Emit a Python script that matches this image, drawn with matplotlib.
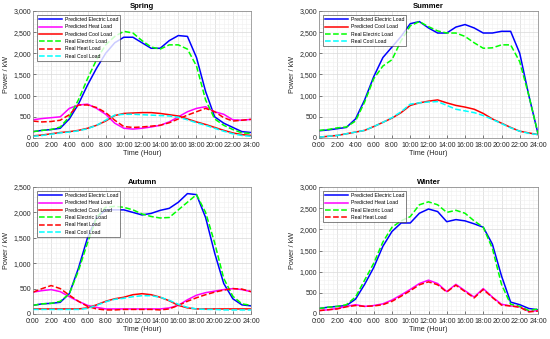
import matplotlib.pyplot as plt
from matplotlib.ticker import FuncFormatter, MultipleLocator

# -------- Data (hourly readings, 0:00 .. 24:00) --------
hours = list(range(25))
x_tick_labels = [f"{h}:00" for h in range(0, 25, 2)]

# Spring
spring_pred_elec = [150, 180, 200, 230, 450, 800, 1250, 1650, 2000, 2250, 2380, 2380, 2250,
                    2120, 2120, 2300, 2420, 2400, 1900, 1100, 500, 350, 250, 150, 130]
spring_real_elec = [150, 180, 200, 260, 500, 900, 1400, 1850, 2200, 2400, 2520, 2480, 2300,
                    2150, 2100, 2200, 2200, 2100, 1700, 900, 450, 300, 200, 120, 110]
spring_pred_heat = [430, 460, 480, 500, 700, 780, 800, 700, 560, 350, 230, 210, 230,
                    260, 300, 380, 500, 620, 700, 740, 620, 560, 430, 420, 440]
spring_real_heat = [400, 380, 390, 420, 550, 780, 780, 720, 600, 420, 270, 250, 260,
                    280, 300, 360, 450, 540, 620, 700, 620, 480, 400, 420, 440]
spring_pred_cool = [50, 70, 100, 130, 150, 180, 230, 300, 400, 530, 580, 590, 600,
                    600, 580, 550, 520, 450, 380, 320, 250, 180, 120, 80, 60]
spring_real_cool = [40, 60, 90, 120, 140, 170, 220, 300, 420, 540, 560, 560, 550,
                    540, 530, 520, 490, 430, 360, 300, 230, 160, 100, 60, 40]

# Summer
summer_pred_elec = [170, 190, 220, 250, 450, 900, 1450, 1900, 2150, 2400, 2700, 2750, 2600,
                    2480, 2480, 2620, 2680, 2600, 2480, 2480, 2520, 2520, 2000, 1000, 100]
summer_real_elec = [180, 200, 240, 260, 400, 850, 1400, 1700, 1850, 2300, 2650, 2750, 2630,
                    2530, 2480, 2480, 2400, 2250, 2120, 2130, 2200, 2200, 1800, 1000, 100]
summer_pred_cool = [20, 40, 60, 100, 140, 180, 270, 370, 470, 600, 770, 830, 870,
                    900, 830, 770, 730, 680, 580, 450, 350, 250, 160, 120, 80]
summer_real_cool = [20, 40, 60, 100, 140, 180, 270, 370, 480, 620, 800, 830, 850,
                    860, 770, 680, 640, 600, 530, 440, 340, 240, 160, 110, 80]

# Autumn
autumn_pred_elec = [170, 200, 210, 230, 400, 900, 1500, 1900, 2050, 2050, 2050, 2000, 1950,
                    1980, 2040, 2080, 2200, 2370, 2350, 1900, 1200, 600, 300, 180, 160]
autumn_real_elec = [170, 200, 210, 250, 400, 850, 1400, 1900, 2100, 2120, 2100, 2050, 1970,
                    1920, 1890, 1900, 2050, 2200, 2350, 2000, 1400, 700, 350, 200, 170]
autumn_pred_heat = [430, 460, 480, 440, 340, 250, 170, 130, 100, 100, 100, 100, 100,
                    100, 100, 120, 170, 280, 370, 420, 450, 480, 500, 480, 440]
autumn_real_heat = [430, 500, 560, 500, 370, 250, 150, 100, 80, 80, 90, 90, 90,
                    90, 80, 100, 170, 250, 320, 380, 430, 470, 500, 490, 440]
autumn_pred_cool = [100, 100, 100, 100, 100, 100, 120, 180, 250, 300, 330, 380, 400,
                    380, 330, 260, 170, 120, 100, 100, 100, 100, 100, 100, 100]
autumn_real_cool = [90, 90, 90, 90, 90, 90, 110, 170, 240, 290, 310, 340, 360,
                    360, 330, 270, 190, 130, 100, 90, 90, 80, 80, 80, 80]

# Winter
winter_pred_elec = [130, 160, 180, 200, 350, 700, 1100, 1600, 1950, 2150, 2150, 2380, 2480,
                    2420, 2180, 2230, 2200, 2130, 2050, 1650, 900, 280, 220, 130, 100]
winter_real_elec = [130, 160, 180, 220, 400, 800, 1200, 1700, 2050, 2200, 2300, 2580, 2650,
                    2580, 2400, 2450, 2380, 2200, 2050, 1550, 700, 230, 180, 80, 120]
winter_pred_heat = [80, 100, 130, 180, 220, 180, 200, 240, 330, 450, 580, 720, 800,
                    720, 530, 700, 550, 400, 600, 400, 230, 190, 170, 60, 80]
winter_real_heat = [80, 100, 120, 170, 200, 180, 190, 220, 300, 420, 550, 690, 760,
                    690, 520, 680, 530, 380, 580, 390, 210, 190, 160, 50, 70]

# -------- Styles --------
STYLES = {
    "Predicted Electric Load": dict(color="#0000FF", linestyle="-"),
    "Predicted Heat Load": dict(color="#FF00FF", linestyle="-"),
    "Predicted Cool Load": dict(color="#FF0000", linestyle="-"),
    "Real Electric Load": dict(color="#00FF00", linestyle="--"),
    "Real Heat Load": dict(color="#FF0000", linestyle="--"),
    "Real Cool Load": dict(color="#00FFFF", linestyle="--"),
}

panels = [
    ("Spring", 3000, [
        ("Predicted Electric Load", spring_pred_elec),
        ("Predicted Heat Load", spring_pred_heat),
        ("Predicted Cool Load", spring_pred_cool),
        ("Real Electric Load", spring_real_elec),
        ("Real Heat Load", spring_real_heat),
        ("Real Cool Load", spring_real_cool),
    ]),
    ("Summer", 3000, [
        ("Predicted Electric Load", summer_pred_elec),
        ("Predicted Cool Load", summer_pred_cool),
        ("Real Electric Load", summer_real_elec),
        ("Real Cool Load", summer_real_cool),
    ]),
    ("Autumn", 2500, [
        ("Predicted Electric Load", autumn_pred_elec),
        ("Predicted Heat Load", autumn_pred_heat),
        ("Predicted Cool Load", autumn_pred_cool),
        ("Real Electric Load", autumn_real_elec),
        ("Real Heat Load", autumn_real_heat),
        ("Real Cool Load", autumn_real_cool),
    ]),
    ("Winter", 3000, [
        ("Predicted Electric Load", winter_pred_elec),
        ("Predicted Heat Load", winter_pred_heat),
        ("Real Electric Load", winter_real_elec),
        ("Real Heat Load", winter_real_heat),
    ]),
]

# axes boxes in pixels (left, top, right, bottom)
W, H = 550, 339
boxes = [
    (33, 11, 251, 138),
    (319, 11, 538, 138),
    (33, 187, 251, 314),
    (319, 187, 538, 314),
]

plt.rcParams["font.family"] = ["Liberation Sans", "DejaVu Sans"]
fig = plt.figure(figsize=(5.5, 3.39), dpi=100)
txt = "#262626"

for (title, ymax, series), (x0, y0, x1, y1) in zip(panels, boxes):
    ax = fig.add_axes([x0 / W, 1 - y1 / H, (x1 - x0) / W, (y1 - y0) / H])
    for name, vals in series:
        ax.plot(hours, vals, label=name, linewidth=1.1, **STYLES[name])
    ax.set_xlim(0, 24)
    ax.set_ylim(0, ymax)
    ax.set_xticks(range(0, 25, 2))
    ax.set_xticklabels(x_tick_labels)
    ax.yaxis.set_major_locator(MultipleLocator(500))
    ax.yaxis.set_major_formatter(FuncFormatter(lambda v, p: f"{int(v):,}"))
    ax.xaxis.set_minor_locator(MultipleLocator(0.5))
    ax.yaxis.set_minor_locator(MultipleLocator(100))
    ax.grid(True, which="major", color="#d9d9d9", linewidth=0.5)
    ax.grid(True, which="minor", color="#efefef", linewidth=0.4)
    ax.set_axisbelow(True)
    ax.tick_params(labelsize=5, colors=txt, length=2, width=0.4, which="both",
                   direction="in")
    ax.tick_params(axis="x", pad=2.6)
    ax.tick_params(axis="y", pad=1.5)
    ax.tick_params(which="minor", length=0)
    for s in ax.spines.values():
        s.set_color("#808080")
        s.set_linewidth(0.5)
    ax.set_title(title, fontsize=5.5, fontweight="bold", pad=2, color="black")
    ax.set_xlabel("Time (Hour)", fontsize=5.2, color=txt, labelpad=1)
    ax.set_ylabel("Power / kW", fontsize=5.2, color=txt, labelpad=2.5)
    leg = ax.legend(loc="upper left", fontsize=3.7, handlelength=4.5, frameon=True,
                    fancybox=False, borderpad=0.4, labelspacing=0.45, borderaxespad=0.8,
                    handletextpad=0.5)
    leg.get_frame().set_edgecolor("#262626")
    leg.get_frame().set_linewidth(0.5)

fig.savefig("out.png", dpi=100)
